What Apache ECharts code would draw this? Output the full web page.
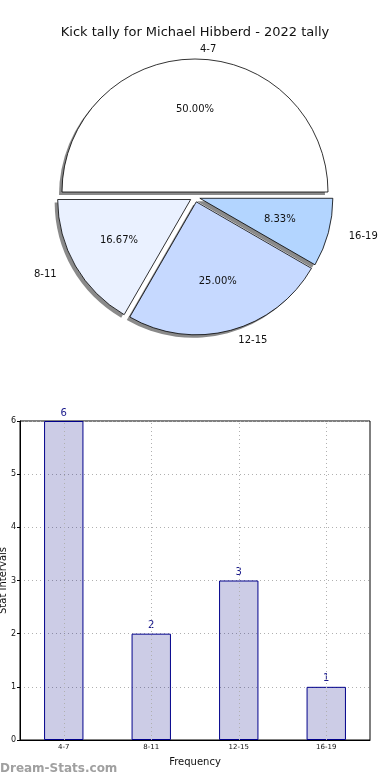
<!DOCTYPE html>
<html><head><meta charset="utf-8">
<script src="https://cdn.jsdelivr.net/npm/echarts@6/dist/echarts.min.js"></script>
<style>html,body{margin:0;padding:0;background:#fff}#c{width:390px;height:780px}</style>
</head><body><div id="c"></div>
<script>
var titleText = 'Kick tally for Michael Hibberd - 2022 tally';
var categories = ['4-7', '8-11', '12-15', '16-19'];
var counts = [6, 2, 3, 1];
var pieColors = ['#ffffff', '#eaf1ff', '#c6d9ff', '#b3d5ff'];
var yTicks = [0, 1, 2, 3, 4, 5, 6];

var total = counts.reduce(function(a, b){ return a + b; }, 0);
var R = 133;
var center = [195, 197];
var shadowCenter = [192, 200];
var labelLengths = [10, 16, 10, 16];
var font = 'DejaVu Sans';

var pieData = categories.map(function(c, i){
  return { name: c, value: counts[i], selected: true,
    itemStyle: { color: pieColors[i] },
    labelLine: { show: false, length: labelLengths[i], length2: 0 } };
});
var plainData = categories.map(function(c, i){
  return { name: c, value: counts[i], selected: true };
});

var chart = echarts.init(document.getElementById('c'), null, {renderer: 'canvas'});
chart.setOption({
  animation: false,
  backgroundColor: '#ffffff',
  title: { text: titleText, left: 'center', top: 21,
    textStyle: { fontFamily: font, fontSize: 13, fontWeight: 'normal', color: '#111' } },
  graphic: [{ type: 'text', left: 0, top: 763,
    style: { text: 'Dream-Stats.com', fontFamily: font, fontSize: 12, fontWeight: 'bold', fill: '#a0a0a0' } }],
  grid: { left: 20, right: 20, top: 421, bottom: 40, containLabel: false, outerBoundsMode: 'none',
    show: true, borderColor: '#000', borderWidth: 1, backgroundColor: 'transparent' },
  xAxis: { type: 'category', data: categories,
    name: 'Frequency', nameLocation: 'middle', nameGap: 17, nameMoveOverlap: false,
    nameTextStyle: { fontFamily: font, fontSize: 10, color: '#111' },
    axisLine: { lineStyle: { color: '#000' } },
    axisTick: { alignWithLabel: true, length: 3, lineStyle: { color: '#000' } },
    axisLabel: { fontFamily: font, fontSize: 7, color: '#111', margin: 4 },
    splitLine: { show: false } },
  yAxis: { type: 'value', min: 0, max: 6, interval: 1,
    name: 'Stat Intervals', nameLocation: 'middle', nameGap: 12, nameRotate: 90, nameMoveOverlap: false,
    nameTextStyle: { fontFamily: font, fontSize: 10, color: '#111' },
    axisLine: { show: true, lineStyle: { color: '#000' } },
    axisTick: { show: true, length: 3, lineStyle: { color: '#000' } },
    axisLabel: { fontFamily: font, fontSize: 8, color: '#111', margin: 4 },
    splitLine: { show: true, lineStyle: { color: '#b0b0b0', type: [1, 3], width: 1 } } },
  series: [
    { type: 'pie', center: shadowCenter, radius: [0, R], startAngle: 0, clockwise: false,
      selectedMode: 'multiple', selectedOffset: 5, avoidLabelOverlap: false,
      silent: true, data: plainData,
      itemStyle: { color: '#8a8a8a', borderWidth: 0 },
      label: { show: false }, labelLine: { show: false } },
    { type: 'pie', center: center, radius: [0, R], startAngle: 0, clockwise: false,
      selectedMode: 'multiple', selectedOffset: 5, avoidLabelOverlap: false,
      silent: true, data: pieData,
      itemStyle: { borderColor: '#000', borderWidth: 0.8 },
      label: { show: true, position: 'outside', formatter: '{b}', fontFamily: font, fontSize: 10, color: '#111', alignTo: 'none' },
      labelLine: { show: false, length: 10, length2: 0 } },
    { type: 'pie', center: center, radius: [0, R * 1.2], startAngle: 0, clockwise: false,
      selectedMode: 'multiple', selectedOffset: 5, avoidLabelOverlap: false,
      silent: true, data: plainData,
      itemStyle: { color: 'rgba(0,0,0,0)', borderWidth: 0 },
      label: { show: true, position: 'inside', fontFamily: font, fontSize: 10, color: '#111',
        formatter: function(p){ return (p.value / total * 100).toFixed(2) + '%'; } },
      labelLine: { show: false } },
    { type: 'bar', data: counts, barWidth: '45%',
      itemStyle: { color: 'rgba(0,0,128,0.2)', borderColor: '#00008b', borderWidth: 1 },
      label: { show: true, position: 'top', distance: 3, fontFamily: font, fontSize: 10, color: '#1a1a8c' },
      markLine: { silent: true, symbol: 'none', label: { show: false },
        lineStyle: { color: '#b0b0b0', type: [1, 3], width: 1 },
        data: categories.map(function(c){ return { xAxis: c }; }) } }
  ]
});
</script></body></html>
